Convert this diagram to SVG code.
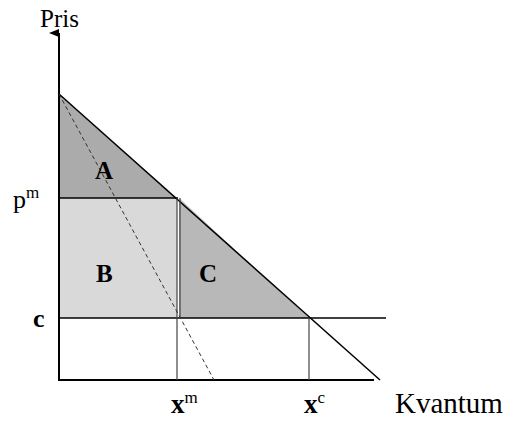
<svg xmlns="http://www.w3.org/2000/svg" width="519" height="421" viewBox="0 0 519 421">
<style>
.ax{stroke:#000;stroke-width:2;fill:none}
.ln{stroke:#000;stroke-width:1.5;fill:none}
.thin{stroke:#444;stroke-width:1.2;fill:none}
.t{font-family:"Liberation Serif",serif;fill:#000}
.b{font-family:"Liberation Serif",serif;font-weight:bold;fill:#000}
.sup{font-weight:normal}
</style>
<defs>
<marker id="ar" markerWidth="8" markerHeight="10" refX="4" refY="10" orient="auto" markerUnits="userSpaceOnUse" viewBox="0 0 8 10">
<path d="M0,10 L4,0 L8,10 Z" fill="#000"/>
</marker>
</defs>
<g id="areaA"><polygon points="59,94 59,198 177,198" fill="#ababab"/></g>
<g id="areaB"><rect x="59" y="198" width="118" height="120" fill="#d9d9d9"/></g>
<g id="areaC"><polygon points="179,198 179,318 309,318" fill="#b8b8b8"/></g>
<g id="connectors">
<line class="ax" x1="59" y1="380" x2="59" y2="33" marker-end="url(#ar)"/>
<line class="ax" x1="58" y1="380" x2="374" y2="380"/>
<line class="ln" x1="59" y1="94" x2="380" y2="380" stroke-width="2"/>
<line class="ln" x1="59" y1="198" x2="178" y2="198"/>
<line class="ln" x1="59" y1="318" x2="386" y2="318"/>
<line class="thin" x1="177" y1="198" x2="177" y2="380"/>
<line class="thin" x1="180" y1="198" x2="180" y2="318"/>
<line class="thin" x1="309" y1="318" x2="309" y2="380" stroke="#666"/>
<line x1="59" y1="94" x2="214" y2="380" stroke="#333" stroke-width="1" stroke-dasharray="4,3"/>
</g>
<g id="labels">
<text class="t" x="40" y="27" font-size="25">Pris</text>
<text class="t" x="13" y="208" font-size="26">p<tspan font-size="17" dy="-10">m</tspan></text>
<text class="b" x="33" y="327" font-size="26">c</text>
<text class="b" x="95" y="179" font-size="25">A</text>
<text class="b" x="96" y="282" font-size="25">B</text>
<text class="b" x="199" y="282" font-size="25">C</text>
<text class="b" x="171" y="413" font-size="27">x<tspan class="sup" font-size="17" dy="-10">m</tspan></text>
<text class="b" x="304" y="413" font-size="27">x<tspan class="sup" font-size="17" dy="-10">c</tspan></text>
<text class="t" x="395" y="413" font-size="29">Kvantum</text>
</g>
</svg>
